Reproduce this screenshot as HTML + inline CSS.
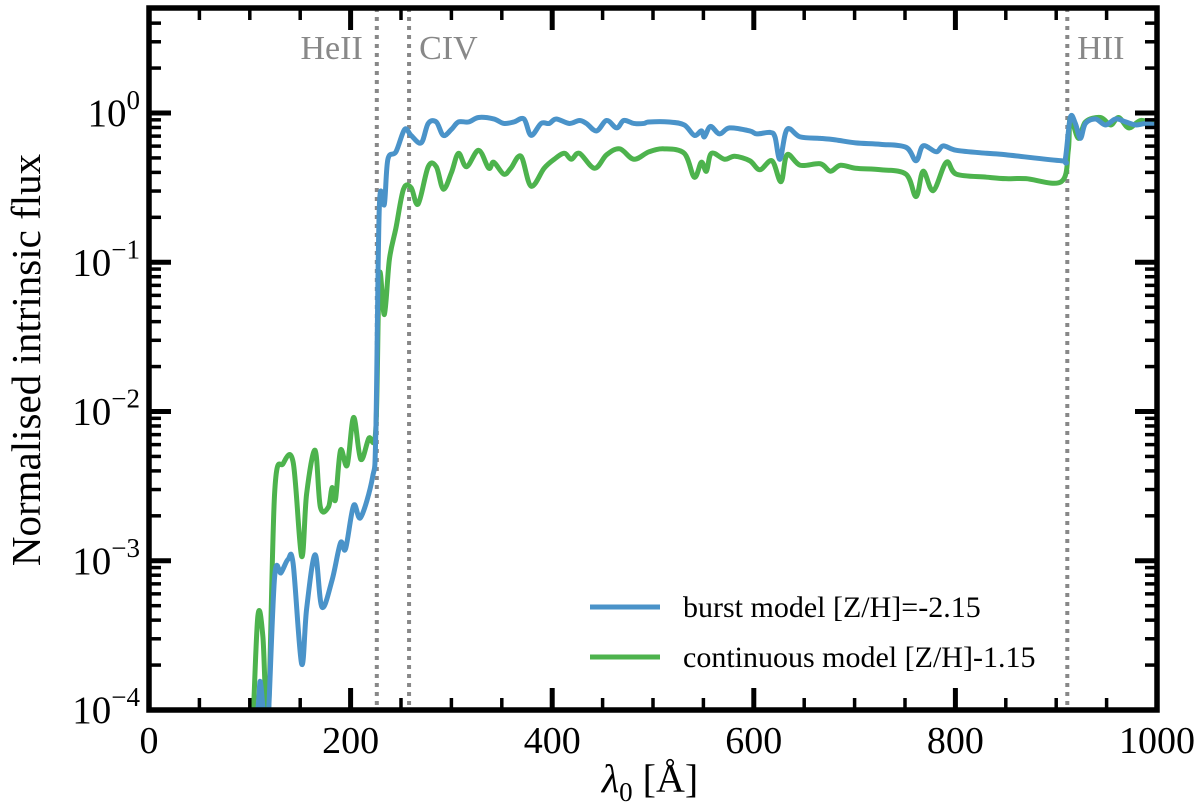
<!DOCTYPE html>
<html><head><meta charset="utf-8"><style>
body{margin:0;background:#fff}
svg{display:block;font-family:"Liberation Serif",serif}
</style></head><body>
<svg id="chart" width="1200" height="803">
<defs><clipPath id="clip"><rect x="149" y="8" width="1008" height="702"/></clipPath></defs>
<g id="marks" clip-path="url(#clip)"></g>
<g id="axes"></g>
</svg>
<script>
const blueX=[100,108,110.5,114.6,118,124.6,131,138,143,151.4,156.4,164.8,171.5,181.6,190,195,203,210,221.8,225,228.5,233.5,237,245,253.6,260,270,277,285,292,300,307,317,327,342,352,362,372,379,389,397,404,417,427,434,444,454,464,471,481,491,496,516,531,541,548,551,557,566,576,596,603,616,621,626,633,646,666,681,701,726,751,761,768,781,788,801,831,850,905,909,914,919,924,929,939,949,959,969,979,989,999,1005];
const blueLog=[-4.3,-3.99,-3.81,-4.1,-4.1,-3.11,-3.08,-2.99,-3.02,-3.69,-3.32,-2.96,-3.31,-3.13,-2.88,-2.92,-2.63,-2.71,-2.44,-2.15,-0.63,-0.61,-0.31,-0.26,-0.11,-0.15,-0.20,-0.07,-0.06,-0.15,-0.11,-0.06,-0.06,-0.03,-0.04,-0.07,-0.06,-0.04,-0.15,-0.07,-0.07,-0.04,-0.07,-0.05,-0.07,-0.12,-0.05,-0.10,-0.05,-0.07,-0.07,-0.06,-0.06,-0.08,-0.15,-0.12,-0.16,-0.09,-0.14,-0.10,-0.12,-0.14,-0.13,-0.16,-0.31,-0.11,-0.16,-0.17,-0.18,-0.20,-0.21,-0.23,-0.32,-0.22,-0.26,-0.22,-0.25,-0.27,-0.28,-0.32,-0.31,-0.03,-0.07,-0.17,-0.07,-0.04,-0.08,-0.04,-0.06,-0.08,-0.07,-0.08,-0.08];
const greenX=[100,103,108,113,118,124.6,133,143,151.4,156.4,164.8,170,178,181.6,185,190,196.6,203,210,218,225,228.5,233.5,238.5,245,252.5,260,267,277,285,292,300,307,315,327,337,342,352,359,369,379,392,402,412,419,427,442,454,467,481,496,511,531,541,548,553,558,571,581,596,606,618,627,633,646,666,676,686,701,726,751,761,768,778,791,801,831,850,870,905,912,914,922,929,944,954,962,972,984,999,1005];
const greenLog=[-4.3,-4.1,-3.37,-3.51,-4.1,-2.55,-2.35,-2.34,-2.97,-2.55,-2.26,-2.64,-2.64,-2.51,-2.59,-2.26,-2.36,-2.04,-2.32,-2.18,-2.12,-1.09,-1.35,-0.98,-0.77,-0.51,-0.50,-0.61,-0.36,-0.36,-0.51,-0.40,-0.27,-0.36,-0.25,-0.37,-0.33,-0.41,-0.37,-0.29,-0.49,-0.37,-0.31,-0.27,-0.31,-0.27,-0.37,-0.28,-0.24,-0.31,-0.26,-0.24,-0.27,-0.43,-0.33,-0.39,-0.27,-0.31,-0.29,-0.32,-0.38,-0.32,-0.46,-0.28,-0.35,-0.34,-0.39,-0.35,-0.37,-0.38,-0.41,-0.56,-0.39,-0.52,-0.33,-0.41,-0.43,-0.44,-0.44,-0.46,-0.25,-0.03,-0.17,-0.06,-0.03,-0.08,-0.03,-0.10,-0.05,-0.08,-0.08];
const xTicks=[0,200,400,600,800,1000];
const yTickExps=[0,-1,-2,-3,-4];
const edgeLines=[226,258,911];
const edgeNames=["HeII","CIV","HII"];
const seriesNames=["burst model [Z/H]=-2.15","continuous model [Z/H]-1.15"];

const L=149,R=1157,T=8,B=710;
const X=v=>L+(v-0)/(1000-0)*(R-L);
const Y=lg=>113-lg*149.25;
const NS="http://www.w3.org/2000/svg";
const marks=document.getElementById('marks'),axes=document.getElementById('axes');
function mk(tag,attrs,parent){const e=document.createElementNS(NS,tag);for(const k in attrs)e.setAttribute(k,attrs[k]);parent.appendChild(e);return e;}
function smooth(xs,ys){const p=xs.map((x,i)=>[X(x),Y(ys[i])]);let d=`M${p[0][0]},${p[0][1]}`;
 for(let i=0;i<p.length-1;i++){const p0=p[Math.max(0,i-1)],p1=p[i],p2=p[i+1],p3=p[Math.min(p.length-1,i+2)];
 const c1=[p1[0]+(p2[0]-p0[0])/6,p1[1]+(p2[1]-p0[1])/6],c2=[p2[0]-(p3[0]-p1[0])/6,p2[1]-(p3[1]-p1[1])/6];
 d+=`C${c1[0]},${c1[1]} ${c2[0]},${c2[1]} ${p2[0]},${p2[1]}`;}return d;}
edgeLines.forEach((v,i)=>{
 const l=mk('line',{x1:X(v),x2:X(v),y1:T,y2:B,stroke:'#888','stroke-width':4,'stroke-dasharray':'4,5'},marks);
 
 
 const t=mk('text',{x:i==0?X(v)-14:X(v)+10,y:59,'font-size':34,fill:'#888','text-anchor':i==0?'end':'start'},axes);
 t.textContent=edgeNames[i];
 
 
});
const g=mk('path',{d:smooth(greenX,greenLog),fill:'none',stroke:'#4db34d','stroke-width':5,'stroke-linejoin':'round'},marks);


const b=mk('path',{d:smooth(blueX,blueLog),fill:'none',stroke:'#4a93c9','stroke-width':5,'stroke-linejoin':'round'},marks);


const fr=mk('rect',{x:L,y:T,width:R-L,height:B-T,fill:'none',stroke:'#000','stroke-width':5.5},axes);


for(let v=0;v<=1000;v+=50){const maj=v%200==0,len=maj?22:12;
 mk('line',{x1:X(v),x2:X(v),y1:B,y2:B-len,stroke:'#000','stroke-width':maj?5:3.5},axes);
 mk('line',{x1:X(v),x2:X(v),y1:T,y2:T+len,stroke:'#000','stroke-width':maj?5:3.5},axes);}
xTicks.forEach(v=>{const t=mk('text',{x:X(v),y:753,'font-size':38,'text-anchor':'middle'},axes);t.textContent=v;
 
 });
for(let e=-4;e<=0;e++){for(let m=1;m<10;m++){const lg=e+Math.log10(m);const y=Y(lg);if(y<T)continue;const maj=m==1,len=maj?22:12;
 mk('line',{x1:L,x2:L+len,y1:y,y2:y,stroke:'#000','stroke-width':maj?5:3.5},axes);
 mk('line',{x1:R,x2:R-len,y1:y,y2:y,stroke:'#000','stroke-width':maj?5:3.5},axes);}}
yTickExps.forEach(e=>{const t=mk('text',{x:e==0?140:140,y:Y(e)+13,'font-size':39,'text-anchor':'end'},axes);
 t.innerHTML='10<tspan dy="-17" font-size="27">'+(e==0?'0':'−'+(-e))+'</tspan>';
 
 });
const xt=mk('text',{x:650,y:792,'font-size':40,'text-anchor':'middle'},axes);
xt.innerHTML='<tspan font-style="italic">λ</tspan><tspan font-size="27" dy="9">0</tspan><tspan dy="-9"> [Å]</tspan>';


const yt=mk('text',{x:0,y:0,'font-size':41,'text-anchor':'middle',transform:'translate(40,360) rotate(-90)'},axes);
yt.textContent='Normalised intrinsic flux';


[['#4a93c9',607],['#4db34d',657]].forEach((c,i)=>{
 const gl=mk('g',{},axes);
 
 
 mk('line',{x1:590,x2:660,y1:c[1],y2:c[1],stroke:c[0],'stroke-width':5},gl);
 const t=mk('text',{x:683,y:c[1]+10,'font-size':30},gl);t.textContent=seriesNames[i];
});
</script>
</body></html>
